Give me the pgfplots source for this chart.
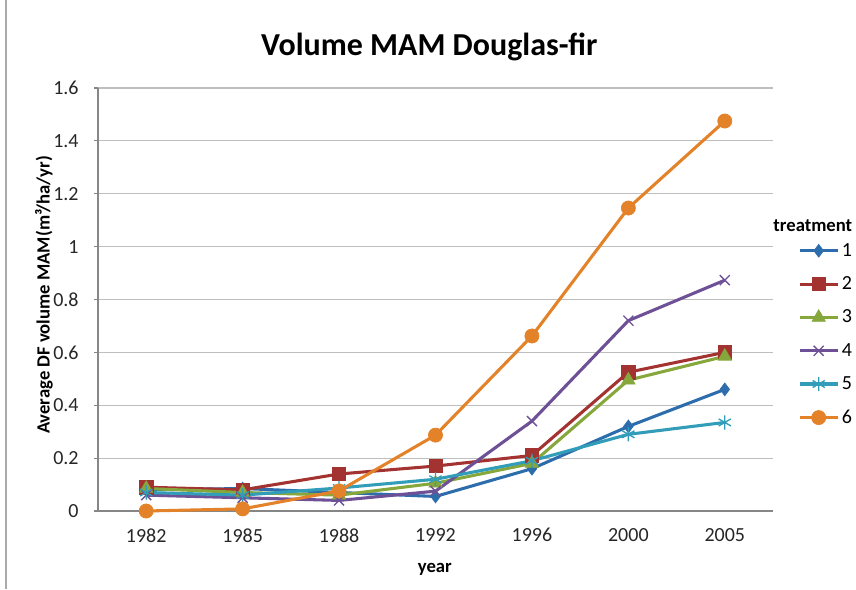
\documentclass[border=0pt]{standalone}
\usepackage{pgfplots}
\pgfplotsset{compat=1.18}
\usepackage{fontspec}
\setmainfont{Carlito}
\definecolor{c1}{RGB}{46,109,172}
\definecolor{c2}{RGB}{163,51,49}
\definecolor{c3}{RGB}{134,167,59}
\definecolor{c4}{RGB}{110,80,150}
\definecolor{c5}{RGB}{49,157,185}
\definecolor{c6}{RGB}{228,130,41}
\definecolor{axgray}{RGB}{134,134,134}
\definecolor{grgray}{RGB}{190,190,190}
\begin{document}
\begin{tikzpicture}
\path[use as bounding box] (0pt,0pt) rectangle (642pt,441.75pt);
\draw[color=axgray!70,line width=1pt] (4.5pt,0pt) -- (4.5pt,441.75pt);
\node[font=\bfseries\fontsize{24}{28}\selectfont] at (322pt,406.5pt) {Volume MAM Douglas-fir};
\node[font=\bfseries\fontsize{14}{16}\selectfont, rotate=90, anchor=center, inner sep=0pt] at (33pt,220.5pt) {Average DF volume MAM(m³/ha/yr)};
\begin{axis}[
  at={(73.5pt,58.5pt)}, anchor=south west,
  scale only axis, width=506.25pt, height=317.25pt,
  xmin=-0.5, xmax=6.5, ymin=0, ymax=1.6,
  xtick={0,1,2,3,4,5,6},
  xticklabels={1982,1985,1988,1992,1996,2000,2005},
  ytick={0,0.2,0.4,0.6,0.8,1,1.2,1.4,1.6},
  yticklabels={0,0.2,0.4,0.6,0.8,1,1.2,1.4,1.6},
  axis x line*=bottom, axis y line*=left,
  axis line style={color=axgray, line width=0.8pt, -},
  ymajorgrids, grid style={color=grgray, line width=0.8pt},
  xtick style={draw=none},
  ytick style={color=axgray, line width=0.8pt},
  tick align=outside, major tick length=3pt,
  tick label style={font=\fontsize{15}{17}\selectfont, color=black!85},
  /pgf/number format/assume math mode=true,
  xticklabel style={yshift=-6.5pt},
  yticklabel style={anchor=east, xshift=-8pt},
  xlabel={year},
  every axis x label/.style={font=\bfseries\fontsize{14}{16}\selectfont, at={(axis description cs:0.499,-0.137)}, anchor=center},
  legend style={at={(1.031,0.646)}, anchor=north west, draw=none, fill=none,
    font=\fontsize{15}{17}\selectfont, row sep=9.8pt},
  legend cell align=left,
  legend image code/.code={
    \draw[mark repeat=2,mark phase=2,#1] plot coordinates {(0cm,0cm) (0.5cm,0cm) (1cm,0cm)};},
  every axis plot/.append style={line width=2.3pt},
  clip=false,
]
\addplot[color=c1, mark=diamond*, mark size=4.8pt, mark options={line width=0.5pt}] coordinates {(0,0.08) (1,0.085) (2,0.07) (3,0.055) (4,0.16) (5,0.32) (6,0.46)};
\addlegendentry{1}
\addplot[color=c2, mark=square*, mark size=5pt, mark options={line width=0.5pt}] coordinates {(0,0.09) (1,0.08) (2,0.14) (3,0.17) (4,0.21) (5,0.525) (6,0.60)};
\addlegendentry{2}
\addplot[color=c3, mark=triangle*, mark size=5.8pt, mark options={line width=0.5pt}] coordinates {(0,0.085) (1,0.07) (2,0.06) (3,0.105) (4,0.18) (5,0.495) (6,0.585)};
\addlegendentry{3}
\addplot[color=c4, mark=x, mark size=5.3pt, mark options={line width=1pt}] coordinates {(0,0.06) (1,0.05) (2,0.04) (3,0.075) (4,0.34) (5,0.72) (6,0.873)};
\addlegendentry{4}
\addplot[color=c5, mark=asterisk, mark size=5.3pt, mark options={line width=1pt}] coordinates {(0,0.07) (1,0.06) (2,0.087) (3,0.12) (4,0.19) (5,0.29) (6,0.335)};
\addlegendentry{5}
\addplot[color=c6, mark=*, mark size=5.3pt, mark options={line width=0.5pt}] coordinates {(0,0.0) (1,0.008) (2,0.076) (3,0.287) (4,0.662) (5,1.146) (6,1.475)};
\addlegendentry{6}
\node[font=\bfseries\fontsize{14}{16}\selectfont, anchor=center] at (rel axis cs:1.059,0.675) {treatment};
\end{axis}
\end{tikzpicture}
\end{document}
